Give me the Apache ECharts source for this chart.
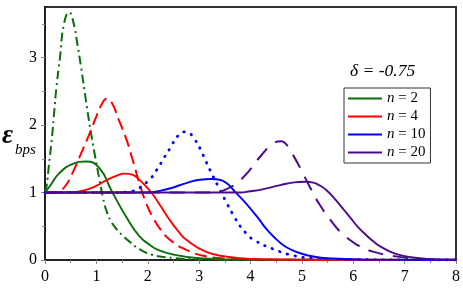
<!DOCTYPE html>
<html><head><meta charset="utf-8">
<script src="https://cdn.jsdelivr.net/npm/echarts@6/dist/echarts.min.js"></script>
<style>html,body{margin:0;padding:0;background:#fff}#c{width:463px;height:289px}</style>
</head><body><div id="c"></div>
<script>
// ---- data ----
var xTicks = [0,1,2,3,4,5,6,7,8];
var yTicks = [0,1,2,3];
var legendNames = ['n = 2','n = 4','n = 10','n = 20'];

var n2Solid = [[0,1],[0.1,1.1],[0.27,1.28],[0.53,1.42],[0.8,1.46],[1.06,1.36],[1.3,1.02],[1.58,0.64],[1.84,0.35],[2.03,0.23],[2.2,0.15],[2.5,0.08],[3.0,0.025],[3.5,0.01],[4.5,0.003],[8,0]];
var n2Dash = [[0,1],[0.03,1.09],[0.08,1.43],[0.14,1.85],[0.18,2.2],[0.22,2.54],[0.29,2.99],[0.37,3.5],[0.47,3.67],[0.56,3.5],[0.63,3.2],[0.7,2.87],[0.8,2.35],[0.88,1.95],[0.96,1.6],[1.06,1.19],[1.13,0.92],[1.2,0.72],[1.28,0.58],[1.38,0.47],[1.5,0.37],[1.65,0.27],[1.84,0.16],[2.1,0.075],[2.5,0.03],[3,0.01],[4,0.002],[8,0]];
var n4Solid = [[0,1],[0.4,1.0],[0.6,1.01],[0.8,1.04],[1.0,1.1],[1.19,1.18],[1.4,1.25],[1.55,1.28],[1.68,1.27],[1.85,1.18],[2.0,1.06],[2.1,0.97],[2.25,0.8],[2.43,0.59],[2.6,0.42],[2.75,0.3],[3.14,0.12],[3.54,0.05],[4,0.015],[5,0.003],[8,0]];
var n4Dash = [[0,1],[0.2,1.0],[0.3,1.03],[0.4,1.1],[0.53,1.28],[0.73,1.63],[0.86,1.86],[1.0,2.13],[1.1,2.3],[1.2,2.39],[1.3,2.33],[1.45,2.05],[1.58,1.8],[1.7,1.5],[1.84,1.13],[1.97,0.84],[2.1,0.63],[2.25,0.45],[2.43,0.3],[2.75,0.15],[3.14,0.055],[3.6,0.02],[4.5,0.005],[8,0]];
var n10Solid = [[0,1],[2.0,1.0],[2.2,1.02],[2.43,1.06],[2.75,1.14],[3.01,1.19],[3.25,1.2],[3.4,1.19],[3.55,1.13],[3.7,1.01],[3.85,0.89],[4.0,0.76],[4.15,0.62],[4.32,0.45],[4.5,0.31],[4.64,0.22],[4.8,0.15],[4.97,0.1],[5.2,0.055],[5.49,0.025],[6.2,0.006],[8,0]];
var n10Dash = [[0,1],[1.4,1.0],[1.6,1.01],[1.77,1.04],[2.03,1.19],[2.17,1.33],[2.33,1.53],[2.43,1.65],[2.6,1.85],[2.74,1.9],[2.92,1.78],[3.05,1.6],[3.14,1.45],[3.24,1.29],[3.37,1.09],[3.54,0.84],[3.7,0.62],[3.8,0.5],[3.91,0.4],[4.06,0.3],[4.45,0.16],[4.84,0.065],[5.23,0.025],[6,0.005],[8,0]];
var n20Solid = [[0,1],[3.8,1.0],[4.0,1.02],[4.19,1.04],[4.58,1.11],[4.85,1.15],[5.07,1.16],[5.2,1.15],[5.36,1.1],[5.5,1.02],[5.65,0.9],[5.8,0.76],[5.95,0.62],[6.08,0.5],[6.25,0.37],[6.4,0.27],[6.55,0.19],[6.73,0.12],[6.9,0.075],[7.12,0.04],[7.5,0.015],[8,0.005]];
var n20Dash = [[0,1],[3.3,1.0],[3.5,1.04],[3.73,1.14],[3.96,1.31],[4.22,1.56],[4.45,1.73],[4.6,1.76],[4.7,1.71],[4.81,1.58],[4.97,1.36],[5.17,1.06],[5.33,0.84],[5.56,0.59],[5.77,0.4],[5.95,0.29],[6.11,0.21],[6.4,0.12],[6.86,0.05],[7.38,0.015],[8,0.003]];

var cGreen = '#0b6e0b', cRed = '#ff0000', cBlue = '#0000ff', cPurple = '#4b0a8c';
var serif = "'Liberation Serif', 'Times New Roman', serif";

function ser(name, data, color, dash, width, cap) {
  return {
    name: name, type: 'line', data: data, smooth: 0.5, showSymbol: false, symbol: 'none',
    animation: false, silent: true,
    lineStyle: { color: color, width: width || 1.9, type: dash || 'solid', cap: cap || 'butt' },
    itemStyle: { color: color }
  };
}

var chart = echarts.init(document.getElementById('c'), null, { renderer: 'canvas' });
chart.setOption({
  backgroundColor: '#fff',
  animation: false,
  grid: { left: 45, right: 7, top: 7, bottom: 29, show: true, borderColor: '#333', borderWidth: 2, backgroundColor: 'transparent' },
  xAxis: {
    type: 'value', min: 0, max: 8, interval: 1,
    axisLine: { show: true, onZero: false, lineStyle: { color: '#222', width: 2 } },
    axisTick: { show: true, length: 4, lineStyle: { color: '#888' } },
    minorTick: { show: true, splitNumber: 2, length: 3, lineStyle: { color: '#888' } },
    splitLine: { show: false },
    axisLabel: { color: '#000', fontFamily: serif, fontSize: 16, margin: 9, customValues: xTicks }
  },
  yAxis: {
    type: 'value', min: 0, max: 3.75, interval: 1,
    axisLine: { show: true, onZero: false, lineStyle: { color: '#222', width: 2 } },
    axisTick: { show: true, length: 4, lineStyle: { color: '#888' }, customValues: yTicks },
    minorTick: { show: true, splitNumber: 2, length: 3, lineStyle: { color: '#888' } },
    splitLine: { show: false },
    axisLabel: { color: '#000', fontFamily: serif, fontSize: 16, margin: 8, customValues: yTicks }
  },
  legend: {
    data: legendNames, orient: 'vertical', left: 344, top: 88,
    backgroundColor: '#fff', borderColor: '#333', borderWidth: 1, padding: [3, 5, 3, 4],
    itemGap: 3, itemWidth: 34, itemHeight: 2, icon: 'rect',
    textStyle: { color: '#000', fontFamily: serif, fontSize: 15, lineHeight: 14,
      rich: { i: { fontStyle: 'italic', fontFamily: serif, fontSize: 15, lineHeight: 14 } } },
    formatter: function (name) { return '{i|n}' + name.slice(1); }
  },
  graphic: [
    { type: 'text', left: 2, top: 123, silent: true,
      style: { text: 'ε', font: "italic bold 27px 'Liberation Serif'", fill: '#000' } },
    { type: 'text', left: 15, top: 143, silent: true,
      style: { text: 'bps', font: "italic 15px 'Liberation Serif'", fill: '#000' } },
    { type: 'text', left: 350, top: 62, silent: true,
      style: { text: 'δ = -0.75', font: "italic 17.5px 'Liberation Serif'", fill: '#000' } }
  ],
  series: [
    ser('d2', n2Dash, cGreen, [9, 4, 2, 4], 2),
    ser('d4', n4Dash, cRed, [12, 6], 2),
    ser('d10', n10Dash, cBlue, [0.5, 7.5], 2.8, 'round'),
    ser('d20', n20Dash, cPurple, [15, 10], 2),
    ser('n = 2', n2Solid, cGreen),
    ser('n = 4', n4Solid, cRed),
    ser('n = 10', n10Solid, cBlue),
    ser('n = 20', n20Solid, cPurple)
  ]
});
</script></body></html>
